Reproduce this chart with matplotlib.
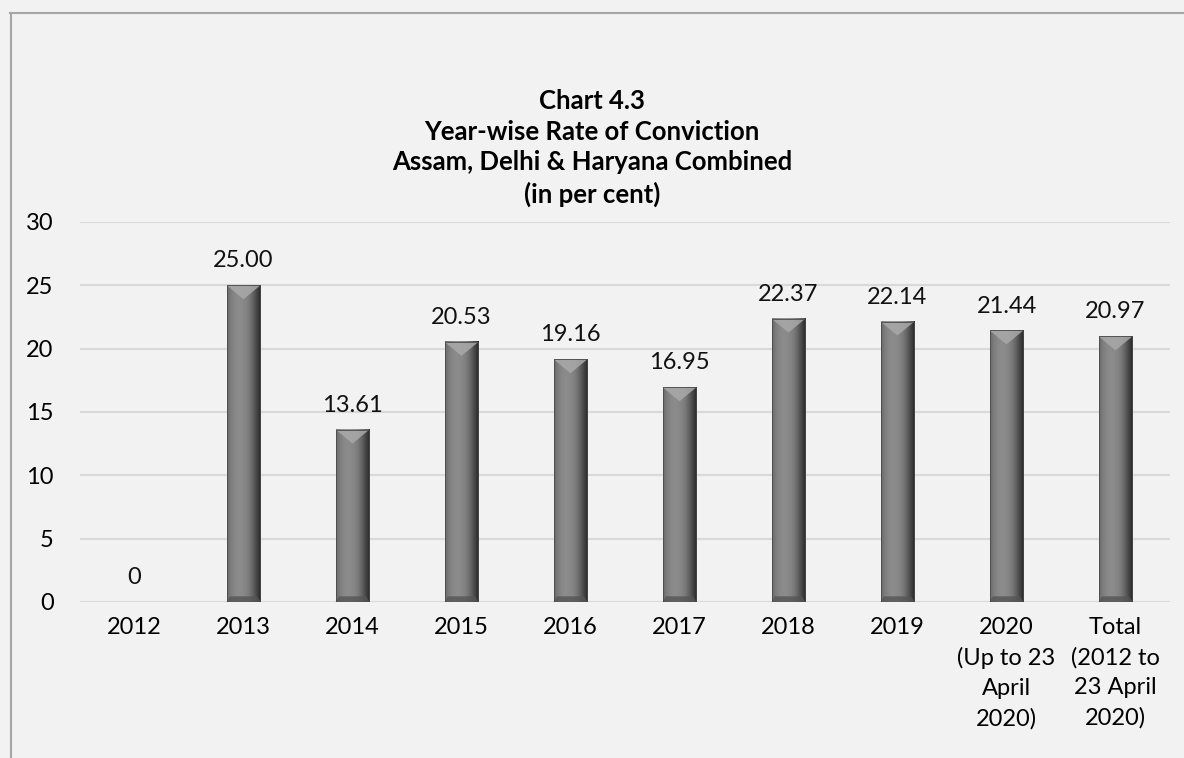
import matplotlib.pyplot as plt
import numpy as np
from matplotlib.patches import Polygon

plt.rcParams['font.family'] = ['Lato', 'DejaVu Sans']

categories = ['2012', '2013', '2014', '2015', '2016', '2017', '2018', '2019',
              '2020\n(Up to 23\nApril\n2020)', 'Total\n(2012 to\n23 April\n2020)']
rates = [0, 25.00, 13.61, 20.53, 19.16, 16.95, 22.37, 22.14, 21.44, 20.97]
labels = ['0', '25.00', '13.61', '20.53', '19.16', '16.95', '22.37', '22.14', '21.44', '20.97']
title = 'Chart 4.3\nYear-wise Rate of Conviction\nAssam, Delhi & Haryana Combined\n(in per cent)'

bg = '#f2f2f2'
fig = plt.figure(figsize=(11.84, 7.58), dpi=100, facecolor=bg)
ax = fig.add_axes([80 / 1184, 1 - 602 / 758, (1170 - 80) / 1184, 380 / 758])
ax.set_facecolor(bg)

# outer frame (top and left visible, rest runs off the image)
fig.add_artist(plt.Line2D([10 / 1184, 1.0], [1 - 12.5 / 758] * 2, color='#a6a6a6', lw=1.5))
fig.add_artist(plt.Line2D([10.5 / 1184] * 2, [0, 1 - 12.5 / 758], color='#a6a6a6', lw=1.5))

x = np.arange(len(categories))
w = 0.31
ax.set_xlim(-0.5, len(categories) - 0.5)
ax.set_ylim(0, 30)

# horizontal shading profile for the bars
prof = np.array([0.42, 0.49, 0.53, 0.55, 0.54, 0.52, 0.47, 0.38, 0.27, 0.16])
grad = np.interp(np.linspace(0, len(prof) - 1, 60), np.arange(len(prof)), prof)
img = np.tile(grad, (2, 1))

for xi, v in zip(x, rates):
    if v <= 0:
        continue
    l, r = xi - w / 2, xi + w / 2
    ax.imshow(img, extent=[l, r, 0, v], aspect='auto', cmap='gray', vmin=0, vmax=1,
              interpolation='bicubic', zorder=3)
    # bevel at top
    ax.add_patch(Polygon([[l, v], [r, v], [xi, v - 1.1]], closed=True,
                         facecolor='#a9a9a9', edgecolor='none', alpha=0.85, zorder=4))
    # bevel at bottom
    ax.add_patch(Polygon([[l, 0], [r, 0], [r - 0.03, 0.45], [l + 0.03, 0.45]], closed=True,
                         facecolor='#555555', edgecolor='none', alpha=0.8, zorder=4))
    ax.add_patch(plt.Rectangle((l, 0), w, v, fill=False, edgecolor='#4a4a4a', lw=0.6, zorder=5))

for xi, v, t in zip(x, rates, labels):
    ax.annotate(t, (xi, v), xytext=(0, 10), textcoords='offset points',
                ha='center', va='bottom', fontsize=17, color='#111111')

ax.set_yticks(range(0, 31, 5))
ax.set_xticks(x)
ax.set_xticklabels(categories, fontsize=17, linespacing=1.5, va='top')
ax.tick_params(axis='y', labelsize=17, length=0, pad=19)
ax.tick_params(axis='x', length=0, pad=11)
ax.grid(axis='y', color='#d9d9d9', lw=1.5, zorder=0)
for s in ax.spines.values():
    s.set_visible(False)
ax.set_axisbelow(True)

fig.text(0.5, 1 - 89 / 758, title, ha='center', va='top', fontsize=18.5,
         fontweight='bold', linespacing=1.33)

fig.savefig('out.png', dpi=100, facecolor=bg)
